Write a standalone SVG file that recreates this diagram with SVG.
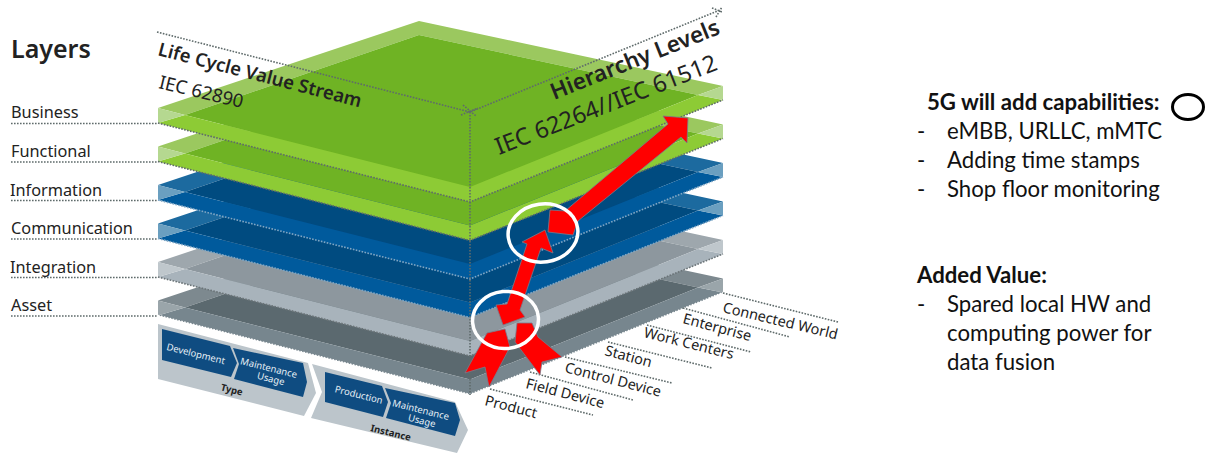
<svg xmlns="http://www.w3.org/2000/svg" width="1207" height="453" viewBox="0 0 1207 453">
<style>
text{font-family:"Noto Sans","Liberation Sans",sans-serif;fill:#222}
.lay{font-size:16.300px}
.dim{font-size:16px}
.cap{font-size:14.500px}
.box{font-size:9.500px;fill:#e8f0f6;text-anchor:middle}
.grp{font-size:9.500px;font-weight:700;text-anchor:middle}
.side{font-family:Lato,"Liberation Sans",sans-serif;font-size:22.200px;fill:#111}
.sideb{font-family:Lato,"Liberation Sans",sans-serif;font-size:22.200px;font-weight:700;fill:#111}
.dot{fill:none;stroke:#5f6b6b;stroke-width:1.6;stroke-dasharray:1.6 1.4}
.edge{fill:none;stroke-width:1.6;stroke-dasharray:1.6 1.4}
.arrow{fill:#f00;stroke:#7a7a8a;stroke-width:.8;stroke-linejoin:round}
.ring{fill:none;stroke:#fff;stroke-width:3.500}
.g1{fill:#9bc85f}.g2{fill:#6fb324}.g3{fill:#8dcb35}.g4{fill:#b5d890}
.b1{fill:#1c6a9f}.b2{fill:#004b80}.b3{fill:#005a9c}.b4{fill:#6a9fc0}
.s1{fill:#9ea7ad}.s2{fill:#8d979e}.s3{fill:#a8b3bb}.s4{fill:#bfc7cc}
.d1{fill:#7d898f}.d2{fill:#5b696f}.d3{fill:#77868e}.d4{fill:#9aa5aa}
.band{fill:#bcc5cb}.chev{fill:#0f4c81}
</style>
<defs>
<polygon id="pBack" points="158,108 419,21 723,86 698,95 419,35 185,115"/>
<polygon id="pTop" points="185,115 419,35 698,95 470,187"/>
<polygon id="pFront" points="158,123 185,115 470,187 698,95 723,100 470,202"/>
<polygon id="pL" points="158,108 185,115 158,123"/>
<polygon id="pR" points="723,86 698,95 723,100"/>
<path id="pEdge" d="M158,123 L470,202 L723,100"/>
</defs>

<g id="layer-asset" transform="translate(0,192.500)">
<use href="#pBack" class="d1"/><use href="#pTop" class="d2"/><use href="#pFront" class="d3"/><use href="#pL" class="d4"/><use href="#pR" class="d4"/>
<use href="#pEdge" class="edge" stroke="#fff"/>
</g>
<g id="layer-integration" transform="translate(0,154)">
<use href="#pBack" class="s1"/><use href="#pTop" class="s2"/><use href="#pFront" class="s3"/><use href="#pL" class="s4"/><use href="#pR" class="s4"/>
<use href="#pEdge" class="edge" stroke="#6b7478"/>
</g>
<g id="layer-communication" transform="translate(0,115.500)">
<use href="#pBack" class="b1"/><use href="#pTop" class="b2"/><use href="#pFront" class="b3"/><use href="#pL" class="b4"/><use href="#pR" class="b4"/>
<use href="#pEdge" class="edge" stroke="#7fa6c4"/>
</g>
<g id="layer-information" transform="translate(0,77)">
<use href="#pBack" class="b1"/><use href="#pTop" class="b2"/><use href="#pFront" class="b3"/><use href="#pL" class="b4"/><use href="#pR" class="b4"/>
<use href="#pEdge" class="edge" stroke="#7fa6c4"/>
</g>
<g id="layer-functional" transform="translate(0,38.500)">
<use href="#pBack" class="g1"/><use href="#pTop" class="g2"/><use href="#pFront" class="g3"/><use href="#pL" class="g4"/><use href="#pR" class="g4"/>
<use href="#pEdge" class="dot"/>
</g>
<g id="layer-business">
<use href="#pBack" class="g1"/><use href="#pTop" class="g2"/><use href="#pFront" class="g3"/><use href="#pL" class="g4"/><use href="#pR" class="g4"/>
<use href="#pEdge" class="dot"/>
</g>

<g id="connectors">
<path class="dot" d="M11,123.500H158M11,162H158M11,200.500H158M11,239H158M11,277.500H158M11,316H158"/>
<path class="dot" d="M157,32L470,112L720,10M470,112V395M461,115L478,108M463,105L476,116M712,8L722,12M716,17L722,7"/>
<path class="dot" d="M723,293L838,322M683,308L790,337M647,325L751,352M608,342L712,368M565,357L672,383M530,372L633,400M490,389L593,415"/>
</g>

<g id="process-type">
<polygon class="band" points="158,324 308,363 316,393 304,416 158,379"/>
<polygon class="chev" points="162,329 230,346 237,363 231,377 162,360"/>
<polygon class="chev" points="233,348 303,363 307,382 303,397 234,379 239,364"/>
<text class="box" transform="translate(195,357) rotate(14)">Development</text>
<text class="box" transform="translate(268,371) rotate(14)">Maintenance</text>
<text class="box" transform="translate(270,382) rotate(14)">Usage</text>
<text class="grp" transform="translate(231,393) rotate(14)">Type</text>
</g>
<g id="process-instance">
<polygon class="band" points="312,364 455,402 468,430 457,453 311,418 322,392"/>
<polygon class="chev" points="325,372 382,386 388,402 383,417 325,402"/>
<polygon class="chev" points="385,388 455,403 460,420 455,436 386,418 391,403"/>
<text class="box" transform="translate(358,398) rotate(14)">Production</text>
<text class="box" transform="translate(420,413) rotate(14)">Maintenance</text>
<text class="box" transform="translate(421,424) rotate(14)">Usage</text>
<text class="grp" transform="translate(390,436) rotate(14)">Instance</text>
</g>

<g id="layer-labels">
<text x="11" y="58" style="font-size:25px;font-weight:600">Layers</text>
<text class="lay" x="11" y="118">Business</text>
<text class="lay" x="11" y="157">Functional</text>
<text class="lay" x="10" y="196">Information</text>
<text class="lay" x="11" y="234">Communication</text>
<text class="lay" x="10" y="273">Integration</text>
<text class="lay" x="11" y="311">Asset</text>
</g>

<g id="axis-labels">
<text transform="translate(157,55) rotate(14.500)" style="font-size:18.500px;font-weight:600">Life Cycle Value Stream</text>
<text class="dim" transform="translate(158,88) rotate(13.500)" style="font-size:18.500px">IEC 62890</text>
<text transform="translate(554,100) rotate(-21.700)" style="font-size:22.500px;font-weight:600">Hierarchy Levels</text>
<text transform="translate(499,155) rotate(-21.300)" style="font-size:23.500px">IEC 62264//IEC 61512</text>
</g>

<g id="hierarchy-labels">
<text class="cap" transform="translate(722,312) rotate(13.500)">Connected World</text>
<text class="cap" transform="translate(682,323) rotate(15)">Enterprise</text>
<text class="cap" transform="translate(643,337) rotate(14)">Work Centers</text>
<text class="cap" transform="translate(604,355) rotate(15)">Station</text>
<text class="cap" transform="translate(564,372) rotate(14.500)">Control Device</text>
<text class="cap" transform="translate(525,388) rotate(14.500)">Field Device</text>
<text class="cap" transform="translate(484,405) rotate(14.500)">Product</text>
</g>

<g id="arrows">
<polygon class="arrow" points="688,118 663,116 668,124 565,211 550,210 548,232 573,235 578,221 681,137 687,143"/>
<polygon class="arrow" points="545,230 522,242 527,244 507,304 496,305 503,325 525,317 520,310 541,248 553,253"/>
<polygon class="arrow" points="487,333 505,329 510,347 489,387 485,367 465,373"/>
<polygon class="arrow" points="517,323 532,323 538,337 562,357 542,362 540,375 515,342"/>
</g>
<g id="highlight-rings">
<ellipse class="ring" cx="543" cy="233" rx="35" ry="29" transform="rotate(-8 543 233)"/>
<ellipse class="ring" cx="505.500" cy="320" rx="33" ry="28.500" transform="rotate(-5 505.500 320)"/>
</g>

<g id="notes">
<text class="sideb" x="927" y="110">5G will add capabilities:</text>
<ellipse cx="1188" cy="107" rx="15.500" ry="12.500" fill="none" stroke="#000" stroke-width="3"/>
<text class="side" x="917" y="139">-</text><text class="side" x="947" y="139">eMBB, URLLC, mMTC</text>
<text class="side" x="917" y="168">-</text><text class="side" x="947" y="168">Adding time stamps</text>
<text class="side" x="917" y="197">-</text><text class="side" x="947" y="197">Shop floor monitoring</text>
<text class="sideb" x="917" y="283">Added Value:</text>
<text class="side" x="917" y="312">-</text><text class="side" x="947" y="312">Spared local HW and</text>
<text class="side" x="947" y="341">computing power for</text>
<text class="side" x="947" y="370">data fusion</text>
</g>
</svg>
